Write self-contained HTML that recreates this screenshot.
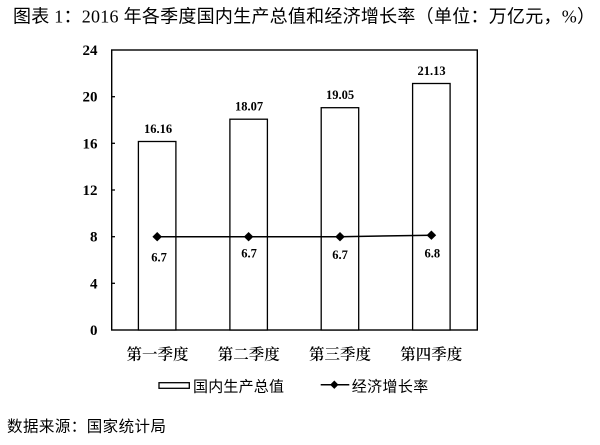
<!DOCTYPE html>
<html>
<head>
<meta charset="utf-8">
<style>
html,body{margin:0;padding:0;background:#fff;}
svg{display:block;}
.t{font-family:"Liberation Serif","Noto Sans CJK SC",serif;}
.num{font-family:"Liberation Serif",serif;font-weight:bold;}
.cat{font-family:"Liberation Serif","Noto Serif CJK SC",serif;font-weight:600;}
.sans{font-family:"Liberation Sans","Noto Sans CJK SC",sans-serif;}
</style>
</head>
<body>
<svg width="600" height="445" viewBox="0 0 600 445" xmlns="http://www.w3.org/2000/svg">
<rect x="0" y="0" width="600" height="445" fill="#fff"/>
<!-- Title -->
<text class="t" x="13" y="22.5" font-size="18" textLength="582" lengthAdjust="spacing" fill="#000">图表 1：2016 年各季度国内生产总值和经济增长率（单位：万亿元，%）</text>

<!-- Plot frame -->
<rect x="111.7" y="50" width="365.6" height="280" fill="none" stroke="#000" stroke-width="1.4"/>

<!-- ticks -->
<g stroke="#000" stroke-width="1.3">
<line x1="111.7" y1="96.7" x2="115" y2="96.7"/>
<line x1="111.7" y1="143.3" x2="115" y2="143.3"/>
<line x1="111.7" y1="190" x2="115" y2="190"/>
<line x1="111.7" y1="236.7" x2="115" y2="236.7"/>
<line x1="111.7" y1="283.3" x2="115" y2="283.3"/>
</g>

<!-- Y labels -->
<g class="num" font-size="15" text-anchor="end" fill="#000">
<text x="97.5" y="55">24</text>
<text x="97.5" y="101.7">20</text>
<text x="97.5" y="148.3">16</text>
<text x="97.5" y="195">12</text>
<text x="97.5" y="241.7">8</text>
<text x="97.5" y="288.3">4</text>
<text x="97.5" y="335">0</text>
</g>

<!-- Bars -->
<g fill="#fff" stroke="#000" stroke-width="1.3">
<rect x="138.4" y="141.5" width="37.5" height="188.5"/>
<rect x="229.9" y="119.2" width="37.5" height="210.8"/>
<rect x="321.2" y="107.7" width="37.5" height="222.3"/>
<rect x="412.6" y="83.5" width="37.5" height="246.5"/>
</g>

<!-- Bar labels -->
<g class="num" font-size="12.5" text-anchor="middle" fill="#000">
<text x="158" y="133">16.16</text>
<text x="249" y="110.7">18.07</text>
<text x="340" y="99.2">19.05</text>
<text x="431.5" y="75">21.13</text>
</g>

<!-- Line series -->
<polyline points="157.2,236.7 248.6,236.7 340,236.7 431.4,235.2" fill="none" stroke="#000" stroke-width="1.5"/>
<g fill="#000">
<polygon points="157.2,232 162,236.7 157.2,241.4 152.4,236.7"/>
<polygon points="248.6,232 253.4,236.7 248.6,241.4 243.8,236.7"/>
<polygon points="340,232 344.8,236.7 340,241.4 335.2,236.7"/>
<polygon points="431.4,230.5 436.2,235.2 431.4,239.9 426.6,235.2"/>
</g>
<g class="num" font-size="12.5" text-anchor="middle" fill="#000">
<text x="159" y="261.7">6.7</text>
<text x="249" y="257.5">6.7</text>
<text x="340" y="259.2">6.7</text>
<text x="432.3" y="257.5">6.8</text>
</g>

<!-- Category labels -->
<g class="cat" font-size="15.5" text-anchor="middle" fill="#000">
<text x="157.5" y="359.5">第一季度</text>
<text x="248.7" y="359.5">第二季度</text>
<text x="340" y="359.5">第三季度</text>
<text x="431.3" y="359.5">第四季度</text>
</g>

<!-- Legend -->
<rect x="159" y="382.7" width="30.3" height="5.6" fill="#fff" stroke="#000" stroke-width="1.3"/>
<text class="sans" x="193" y="391.5" font-size="15" textLength="91" lengthAdjust="spacing" fill="#000">国内生产总值</text>
<line x1="320.7" y1="384.7" x2="349.3" y2="384.7" stroke="#000" stroke-width="1.5"/>
<polygon points="334.3,380.5 338.5,384.7 334.3,388.9 330.1,384.7" fill="#000"/>
<text class="sans" x="351.7" y="391.3" font-size="15" textLength="76.6" lengthAdjust="spacing" fill="#000">经济增长率</text>

<!-- Source -->
<text class="sans" x="7" y="431.5" font-size="15.5" textLength="159" lengthAdjust="spacing" fill="#000">数据来源：国家统计局</text>
</svg>
</body>
</html>
